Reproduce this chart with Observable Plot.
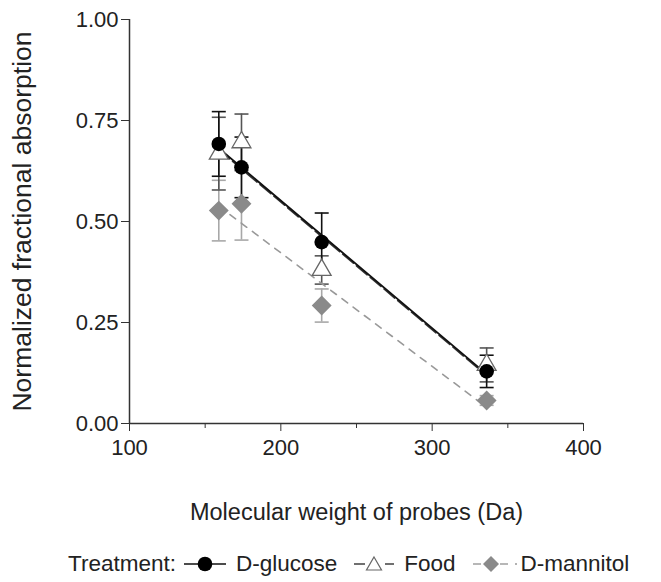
<!DOCTYPE html>
<html>
<head>
<meta charset="utf-8">
<script src="https://cdn.jsdelivr.net/npm/d3@7"></script>
<script src="https://cdn.jsdelivr.net/npm/@observablehq/plot@0.6"></script>
<style>
  body { margin: 0; background: #fff; font-family: "Liberation Sans", Arial, sans-serif; overflow: hidden; }
  #chart { width: 661px; }
  #chart svg { display: block; }
  .legend { display: flex; align-items: center; font-size: 22.5px; color: #222; height: 28px; white-space: nowrap; padding-left: 68px; margin-top: 10px; }
  .legend .item { display: flex; align-items: center; margin-right: 17px; }
  .legend svg { margin-right: 10px; }
</style>
</head>
<body>
<div id="chart"></div>
<script>
const probes = [159, 174, 227, 336];
const glucoseMean = [0.692, 0.634, 0.449, 0.129];
const glucoseErr = [0.080, 0.075, 0.072, 0.040];
const foodMean = [0.668, 0.696, 0.380, 0.145];
const foodErr = [0.090, 0.070, 0.035, 0.042];
const mannitolMean = [0.527, 0.544, 0.292, 0.057];
const mannitolErr = [0.075, 0.090, 0.041, 0.012];
const xTicks = [100, 200, 300, 400];
const xMinorTicks = [150, 250, 350];
const yTicks = [0, 0.25, 0.5, 0.75, 1];

function rows(name, means, errs) {
  return probes.map((x, i) => ({treatment: name, x, y: means[i], lo: means[i] - errs[i], hi: means[i] + errs[i]}));
}
const glucose = rows("D-glucose", glucoseMean, glucoseErr);
const food = rows("Food", foodMean, foodErr);
const mannitol = rows("D-mannitol", mannitolMean, mannitolErr);

const capSymbol = { draw(ctx, size) { const r = Math.sqrt(size / Math.PI); ctx.moveTo(-r, 0); ctx.lineTo(r, 0); } };

function errMarks(data, color) {
  return [
    Plot.ruleX(data, {x: "x", y1: "lo", y2: "hi", stroke: color, strokeWidth: 1.6}),
    Plot.dot(data, {x: "x", y: "lo", symbol: capSymbol, r: 7, stroke: color, strokeWidth: 1.6}),
    Plot.dot(data, {x: "x", y: "hi", symbol: capSymbol, r: 7, stroke: color, strokeWidth: 1.6})
  ];
}

const plot = Plot.plot({
  width: 661,
  height: 540,
  marginLeft: 129,
  marginRight: 78,
  marginTop: 19,
  marginBottom: 117,
  style: {fontFamily: "Liberation Sans, Arial, sans-serif", fontSize: "22px", color: "#222"},
  x: {domain: [100, 400]},
  y: {domain: [0, 1]},
  marks: [
    ...errMarks(mannitol, "#a8a8a8"),
    ...errMarks(food, "#555"),
    ...errMarks(glucose, "#111"),
    Plot.linearRegressionY(mannitol, {x: "x", y: "y", ci: 0, stroke: "#999", strokeWidth: 1.6, strokeDasharray: "7,7"}),
    Plot.linearRegressionY(food, {x: "x", y: "y", ci: 0, stroke: "#333", strokeWidth: 1.6, strokeDasharray: "14,4"}),
    Plot.linearRegressionY(glucose, {x: "x", y: "y", ci: 0, stroke: "#111", strokeWidth: 1.8}),
    Plot.dot(mannitol, {x: "x", y: "y", symbol: "diamond2", r: 8, fill: "#8a8a8a", stroke: "#8a8a8a"}),
    Plot.dot(food, {x: "x", y: "y", symbol: "triangle", r: 7, fill: "white", stroke: "#666", strokeWidth: 1.3}),
    Plot.dot(glucose, {x: "x", y: "y", symbol: "circle", r: 7.3, fill: "#000"}),
    Plot.ruleY([0], {stroke: "#333", strokeWidth: 1.5}),
    Plot.ruleX([100], {stroke: "#333", strokeWidth: 1.5}),
    Plot.axisX({ticks: xTicks, tickSize: 8, tickPadding: 8, stroke: "#333", tickFormat: d => d, fontSize: 22, label: null}),
    Plot.axisX({ticks: xMinorTicks, tickSize: 5, stroke: "#333", tickFormat: () => "", label: null}),
    Plot.axisX({ticks: [], label: "Molecular weight of probes (Da)", labelAnchor: "center", labelArrow: "none", labelOffset: 96, fontSize: 23.5}),
    Plot.axisY({ticks: yTicks, tickSize: 8, tickPadding: 3, stroke: "#333", tickFormat: d => d.toFixed(2), fontSize: 22, label: null}),
    Plot.axisY({ticks: [], label: "Normalized fractional absorption", labelAnchor: "center", labelArrow: "none", labelOffset: 117, fontSize: 26.5})
  ]
});
document.getElementById("chart").appendChild(plot);

const legend = document.createElement("div");
legend.className = "legend";
legend.innerHTML = `
  <span style="margin-right:8px">Treatment:</span>
  <span class="item"><svg width="42" height="20"><line x1="0" y1="10" x2="42" y2="10" stroke="#111" stroke-width="1.6"/><circle cx="21" cy="10" r="7.3" fill="#000"/></svg>D-glucose</span>
  <span class="item"><svg width="40" height="20"><line x1="0" y1="10" x2="11" y2="10" stroke="#333" stroke-width="1.4"/><line x1="31" y1="10" x2="40" y2="10" stroke="#333" stroke-width="1.4"/><path d="M20,3 L27.5,16 L12.5,16 Z" fill="white" stroke="#666" stroke-width="1.2"/></svg>Food</span>
  <span class="item" style="margin-right:0"><svg width="46" height="20" style="margin-right:2px"><line x1="0" y1="10" x2="8" y2="10" stroke="#999" stroke-width="1.4"/><line x1="27" y1="10" x2="35" y2="10" stroke="#999" stroke-width="1.4"/><line x1="42" y1="10" x2="44" y2="10" stroke="#999" stroke-width="1.4"/><path d="M18,2 L26,10 L18,18 L10,10 Z" fill="#8a8a8a"/></svg>D-mannitol</span>`;
document.getElementById("chart").appendChild(legend);
</script>
</body>
</html>
